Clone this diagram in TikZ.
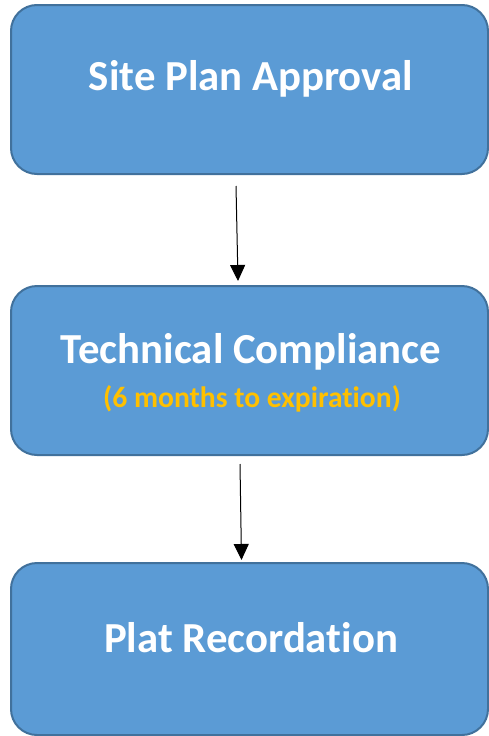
\documentclass[tikz,border=0pt]{standalone}
\usepackage{fontspec}
\setmainfont{Carlito}[Ligatures=NoCommon]
\usetikzlibrary{arrows.meta}
\definecolor{boxfill}{HTML}{5B9BD5}
\definecolor{boxline}{HTML}{41719C}
\definecolor{subgold}{HTML}{FFC000}
\begin{document}
\begin{tikzpicture}[x=1pt,y=-1pt,
  stagebox/.style={draw=boxline,fill=boxfill,line width=2pt,rounded corners=26pt,
    minimum width=477pt,inner sep=0pt},
  titletext/.style={anchor=base,text=white,font=\fontsize{42.8}{50}\selectfont\bfseries,inner sep=0pt},
  subtext/.style={anchor=base,text=subgold,font=\fontsize{29.6}{35}\selectfont\bfseries,inner sep=0pt},
  flow/.style={line width=1pt,-{Triangle[width=15pt,length=16pt]}}]
\useasboundingbox (0,0) rectangle (488,736);
\node[stagebox,minimum height=169pt] (b1) at (249.5,89.5) {};
\node[stagebox,minimum height=169pt] (b2) at (249.5,370.5) {};
\node[stagebox,minimum height=172pt] (b3) at (249.5,649) {};
\node[titletext] (t1) at (251,90) {Site Plan Approval};
\node[titletext] (t2) at (251,363) {Technical Compliance};
\node[subtext] (s2) at (252,407) {(6 months to expiration)};
\node[titletext] (t3) at (251,652) {Plat Recordation};
\coordinate (a1s) at (236,186);
\coordinate (a1e) at (238,281);
\coordinate (a2s) at (240,464);
\coordinate (a2e) at (241.5,560);
\draw[flow] (a1s) -- (a1e);
\draw[flow] (a2s) -- (a2e);
\end{tikzpicture}
\end{document}
